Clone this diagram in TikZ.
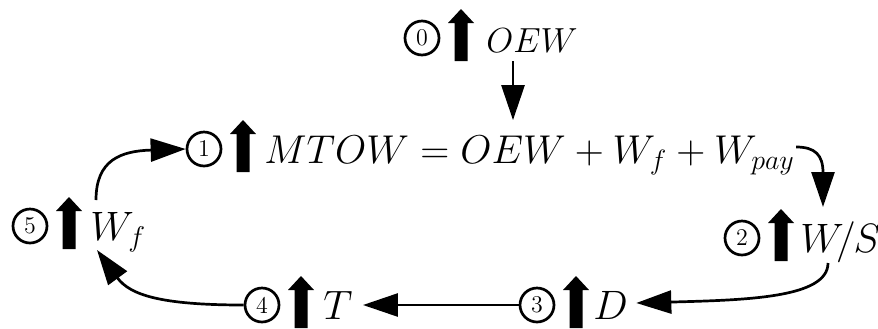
\documentclass[tikz,border=0pt]{standalone}
\usetikzlibrary{arrows.meta,calc}
\newcommand\stage[6]{%
  \node[numc] (c#1) at (#2,#3-14) {#1};
  \fill (#2+32.5,#3+9) -- (#2+32.5,#3-29) -- (#2+26,#3-29) -- (#2+39,#3-43) -- (#2+52,#3-29) -- (#2+45.5,#3-29) -- (#2+45.5,#3+9) -- cycle;
  \node[lbl,scale=#6] (t#1) at (#4,#3) {$#5$};
}
\begin{document}
\begin{tikzpicture}[x=0.5pt,y=-0.5pt,
  numc/.style={circle,draw,line width=1.35pt,minimum size=17pt,inner sep=0pt,font=\large},
  lbl/.style={inner sep=0pt,anchor=base west,font=\huge,transform shape},
  conn/.style={line width=1.35pt,-{Triangle[length=17.5pt,width=11.5pt]}}]
\useasboundingbox (0,0) rectangle (878,328);
\stage{0}{422}{52}{486}{OEW}{0.84}
\stage{1}{204}{163}{264}{MTOW = OEW + W_f + W_{pay}}{0.97}
\stage{2}{742}{252}{800}{W\mkern-3.5mu/\mkern-1mu S}{0.99}
\stage{3}{537}{319}{593}{D}{0.99}
\stage{4}{262}{319}{323}{T}{0.99}
\stage{5}{30}{240}{90}{W_f}{0.99}
% connectors
\coordinate (s01) at ($(t0.base west)+(27,9)$);
\draw[conn] (s01) -- ($(s01 |- t1.north)+(0,-15)$);
\draw[conn] ($(t1.base east)+(1,-16)$) .. controls +(19,0) and +(0,-52) .. ($(t2.base west)+(23,-45)$);
\draw[conn] ($(t2.base west)+(28,11)$) .. controls +(0,35) and +(110,-3) .. ($(t3.base east)+(8,-16)$);
\coordinate (e34) at ($(t4.base east)+(10,0)$);
\draw[conn] (c3.west) -- (e34 |- c3.west);
\draw[conn] (c4.west) .. controls +(-83,0) and +(33,45) .. ($(t5.base west)+(7,10)$);
\draw[conn] ($(t5.base west)+(6,-40)$) .. controls +(0,-40) and +(-65,2) .. (c1.west);
\end{tikzpicture}
\end{document}
